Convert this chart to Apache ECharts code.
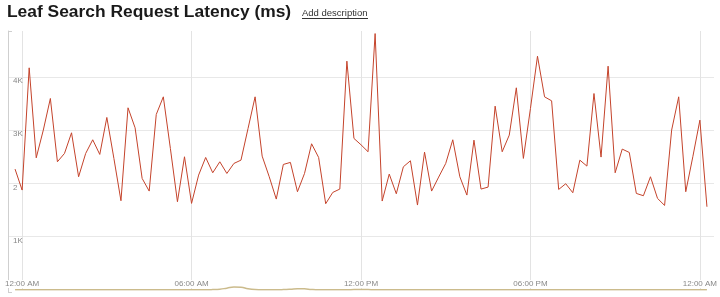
<!DOCTYPE html>
<html><head><meta charset="utf-8">
<script src="https://cdn.jsdelivr.net/npm/echarts@6/dist/echarts.min.js"></script>
<style>html,body{margin:0;padding:0;background:#fff}#c{width:720px;height:297px}</style>
</head><body><div id="c"></div>
<script>
const chartTitle = "Leaf Search Request Latency (ms)";
const linkText = "Add description";

// Latency (ms), one point every 15 minutes, starting 11:45 PM the previous day
const latency = [
  2269, 1875, 4169, 2481, 3000, 3594, 2406, 2562, 2950, 2125,
  2562, 2819, 2544, 3238, 2469, 1675, 3419, 3044, 2094, 1856,
  3294, 3625, 2656, 1656, 2500, 1625, 2156, 2487, 2200, 2406,
  2187, 2375, 2437, 3031, 3625, 2512, 2125, 1706, 2356, 2394,
  1844, 2187, 2744, 2487, 1619, 1831, 1894, 4294, 2844, 2725,
  2594, 4812, 1669, 2175, 1806, 2312, 2425, 1594, 2587, 1856,
  2119, 2375, 2819, 2125, 1781, 2812, 1894, 1931, 3450, 2594,
  2906, 3794, 2469, 3406, 4387, 3625, 3550, 1887, 1994, 1825,
  2437, 2325, 3687, 2494, 4200, 2200, 2644, 2581, 1812, 1769,
  2125, 1719, 1587, 3000, 3625, 1844, 2500, 3187, 1562
];

// Second (near-zero) series
const baseline = [
  5, 5, 5, 5, 5, 5, 5, 5, 5, 5,
  5, 5, 5, 5, 5, 5, 5, 5, 5, 5,
  5, 5, 5, 5, 5, 5, 5, 5, 8, 15,
  35, 55, 50, 25, 10, 5, 5, 5, 8, 15,
  25, 22, 10, 5, 5, 5, 5, 5, 8, 10,
  8, 5, 5, 5, 5, 5, 5, 5, 5, 5,
  5, 5, 5, 5, 5, 5, 5, 5, 5, 5,
  5, 5, 5, 5, 5, 5, 5, 5, 5, 5,
  5, 5, 5, 5, 5, 5, 5, 5, 5, 5,
  5, 5, 5, 5, 5, 5, 5, 5, 5
];

const yTickLabels = {1000: "1K", 2000: "2", 3000: "3K", 4000: "4K"};

// 15-minute time slots from 11:30 PM to 12:30 AM (next day)
const slots = [];
for (let i = 0; i < 101; i++) {
  const m = ((i - 2) * 15 + 1440) % 1440;
  const h = Math.floor(m / 60), mm = m % 60;
  const h12 = h % 12 === 0 ? 12 : h % 12;
  slots.push(String(h12).padStart(2, '0') + ':' + String(mm).padStart(2, '0') + ' ' + (h < 12 ? 'AM' : 'PM'));
}
const isMajor = (idx) => idx % 24 === 2;

const font = "'Liberation Sans', Arial, sans-serif";
const chart = echarts.init(document.getElementById('c'), null, {renderer: 'canvas'});
chart.setOption({
  animation: false,
  textStyle: {fontFamily: font},
  grid: {left: 8, right: 1, top: 31, bottom: 7, containLabel: false},
  graphic: [
    {type: 'text', left: 7, top: 4, style: {text: chartTitle, font: "bold 17.4px " + font, fill: '#1a1a1a'}},
    {type: 'text', left: 302, top: 8, style: {text: linkText, font: "9.5px " + font, fill: '#333'}},
    {type: 'line', shape: {x1: 302, y1: 18.5, x2: 368, y2: 18.5}, style: {stroke: '#333', lineWidth: 1}},
    {type: 'line', shape: {x1: 8, y1: 31.5, x2: 12, y2: 31.5}, style: {stroke: '#cfcfcf', lineWidth: 1}},
    {type: 'line', shape: {x1: 8.5, y1: 290, x2: 8.5, y2: 292.5}, style: {stroke: '#cfcfcf', lineWidth: 1}},
    {type: 'line', shape: {x1: 8, y1: 292.5, x2: 12, y2: 292.5}, style: {stroke: '#cfcfcf', lineWidth: 1}}
  ],
  xAxis: {
    type: 'category',
    data: slots,
    boundaryGap: false,
    axisLine: {show: false},
    axisTick: {show: false},
    axisLabel: {
      inside: true, margin: 2, interval: (i) => isMajor(i),
      fontSize: 8, color: '#888', fontFamily: font,
      backgroundColor: '#fff'
    },
    splitLine: {show: true, interval: (i) => isMajor(i), lineStyle: {color: '#e3e3e3', width: 1}}
  },
  yAxis: {
    type: 'value',
    min: 0, max: 4860, interval: 1000,
    axisLine: {show: true, lineStyle: {color: '#cfcfcf'}},
    axisTick: {show: false},
    axisLabel: {
      inside: true, margin: 5, fontSize: 8, color: '#888', verticalAlign: 'top',
      showMaxLabel: false, showMinLabel: false,
      formatter: (v) => yTickLabels[v] || ''
    },
    splitLine: {show: true, showMinLine: false, showMaxLine: false, lineStyle: {color: '#e8e8e8', width: 1}}
  },
  series: [
    {
      type: 'line', data: [null].concat(baseline), symbol: 'none', smooth: true,
      lineStyle: {color: '#cbbb8c', width: 1.5}, z: 2
    },
    {
      type: 'line', data: [null].concat(latency), symbol: 'none',
      lineStyle: {color: '#c4432b', width: 1}, z: 3
    }
  ]
});
</script></body></html>
